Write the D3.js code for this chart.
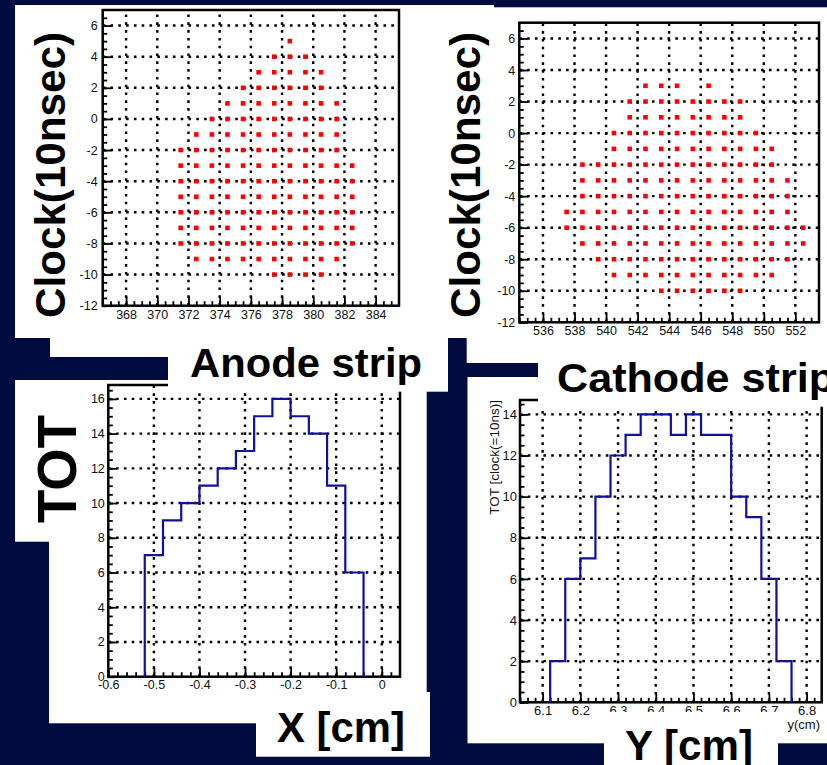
<!DOCTYPE html>
<html>
<head>
<meta charset="utf-8">
<script src="https://cdn.jsdelivr.net/npm/d3@7"></script>
<style>
  body { margin: 0; background: #000c40; }
  svg { display: block; }
</style>
</head>
<body>
<script>
// ---- data ----
// anode strip vs clock (red markers), one row per clock value
var anodeClock = [5, 4, 3, 2, 1, 0, -1, -2, -3, -4, -5, -6, -7, -8, -9, -10];
var anodeStrips = [
  [378.5],
  [377.5, 378.5, 379.5],
  [376.5, 377.5, 378.5, 379.5, 380.5],
  [375.5, 376.5, 377.5, 378.5, 379.5, 380.5],
  [374.5, 375.5, 376.5, 377.5, 378.5, 379.5, 380.5, 381.5],
  [373.5, 374.5, 375.5, 376.5, 377.5, 378.5, 379.5, 380.5, 381.5],
  [372.5, 373.5, 374.5, 375.5, 376.5, 377.5, 378.5, 379.5, 380.5, 381.5],
  [371.5, 372.5, 373.5, 374.5, 375.5, 376.5, 377.5, 378.5, 379.5, 380.5, 381.5],
  [371.5, 372.5, 373.5, 374.5, 375.5, 376.5, 377.5, 378.5, 379.5, 380.5, 381.5, 382.5],
  [371.5, 372.5, 373.5, 374.5, 375.5, 376.5, 377.5, 378.5, 379.5, 380.5, 381.5, 382.5],
  [371.5, 372.5, 373.5, 374.5, 375.5, 376.5, 377.5, 378.5, 379.5, 380.5, 381.5, 382.5],
  [371.5, 372.5, 373.5, 374.5, 375.5, 376.5, 377.5, 378.5, 379.5, 380.5, 381.5, 382.5],
  [371.5, 372.5, 373.5, 374.5, 375.5, 376.5, 377.5, 378.5, 379.5, 380.5, 381.5, 382.5],
  [371.5, 372.5, 373.5, 374.5, 375.5, 376.5, 377.5, 378.5, 379.5, 380.5, 381.5, 382.5],
  [372.5, 373.5, 374.5, 375.5, 376.5, 377.5, 378.5, 379.5, 380.5, 381.5],
  [377.5, 378.5, 379.5, 380.5]
];

// cathode strip vs clock
var cathodeClock = [3, 2, 1, 0, -1, -2, -3, -4, -5, -6, -7, -8, -9, -10];
var cathodeStrips = [
  [542.5, 543.5, 544.5, 546.5],
  [541.5, 542.5, 543.5, 544.5, 545.5, 546.5, 547.5, 548.5],
  [541.5, 542.5, 543.5, 544.5, 545.5, 546.5, 547.5, 548.5],
  [540.5, 541.5, 542.5, 543.5, 544.5, 545.5, 546.5, 547.5, 548.5, 549.5],
  [540.5, 541.5, 542.5, 543.5, 544.5, 545.5, 546.5, 547.5, 548.5, 549.5, 550.5],
  [538.5, 539.5, 540.5, 541.5, 542.5, 543.5, 544.5, 545.5, 546.5, 547.5, 548.5, 549.5, 550.5],
  [538.5, 539.5, 540.5, 541.5, 542.5, 543.5, 544.5, 545.5, 546.5, 547.5, 548.5, 549.5, 550.5, 551.5],
  [538.5, 539.5, 540.5, 541.5, 542.5, 543.5, 544.5, 545.5, 546.5, 547.5, 548.5, 549.5, 550.5, 551.5],
  [537.5, 538.5, 539.5, 540.5, 541.5, 542.5, 543.5, 544.5, 545.5, 546.5, 547.5, 548.5, 549.5, 550.5, 551.5],
  [537.5, 538.5, 539.5, 540.5, 541.5, 542.5, 543.5, 544.5, 545.5, 546.5, 547.5, 548.5, 549.5, 550.5, 551.5, 552.5],
  [538.5, 539.5, 540.5, 541.5, 542.5, 543.5, 544.5, 545.5, 546.5, 547.5, 548.5, 549.5, 550.5, 551.5, 552.5],
  [539.5, 540.5, 541.5, 542.5, 543.5, 544.5, 545.5, 546.5, 547.5, 548.5, 549.5, 550.5, 551.5],
  [540.5, 541.5, 542.5, 543.5, 544.5, 545.5, 546.5, 547.5, 548.5, 549.5, 550.5],
  [543.5, 544.5, 545.5, 546.5, 547.5, 548.5]
];

// TOT histograms (bin low edge, content), bin width 0.04 cm
var binWidth = 0.04;
var anodeX = [-0.52, -0.48, -0.44, -0.40, -0.36, -0.32, -0.28, -0.24, -0.20, -0.16, -0.12, -0.08];
var anodeTOT = [7, 9, 10, 11, 12, 13, 15, 16, 15, 14, 11, 6];
var cathodeY = [6.12, 6.16, 6.20, 6.24, 6.28, 6.32, 6.36, 6.40, 6.44, 6.48, 6.52, 6.56, 6.60, 6.64, 6.68, 6.72];
var cathodeTOT = [2, 6, 7, 10, 12, 13, 14, 14, 13, 14, 13, 13, 10, 9, 6, 2];

// tick labels
var clockTicks = [-12, -10, -8, -6, -4, -2, 0, 2, 4, 6];
var anodeStripTicks = [368, 370, 372, 374, 376, 378, 380, 382, 384];
var cathodeStripTicks = [536, 538, 540, 542, 544, 546, 548, 550, 552];
var anodeTotTicks = [0, 2, 4, 6, 8, 10, 12, 14, 16];
var anodeXTicks = [-0.6, -0.5, -0.4, -0.3, -0.2, -0.1, 0];
var cathodeTotTicks = [0, 2, 4, 6, 8, 10, 12, 14];
var cathodeYTicks = [6.1, 6.2, 6.3, 6.4, 6.5, 6.6, 6.7, 6.8];

// ---- layout ----
var bg = "#000c40";
var labelFont = "'Liberation Sans', Arial, Helvetica, sans-serif";

var svg = d3.select("body").append("svg")
    .attr("width", 827)
    .attr("height", 765);

svg.append("rect")
    .attr("width", 827)
    .attr("height", 765)
    .attr("fill", bg);

function whiteRect(x0, y0, x1, y1) {
    svg.append("rect")
        .attr("x", x0).attr("y", y0)
        .attr("width", x1 - x0).attr("height", y1 - y0)
        .attr("fill", "#fff");
}

// white slide panels (underneath)
whiteRect(466.7, 7.3, 827, 363);    // top right screenshot
// leftover of the small ROOT y title, mostly hidden
var clip = svg.append("clipPath").attr("id", "sliver");
clip.append("rect").attr("x", 494).attr("y", 0).attr("width", 10).attr("height", 80);
svg.append("text")
    .attr("clip-path", "url(#sliver)")
    .attr("transform", "translate(500,22.7) rotate(-90)")
    .attr("text-anchor", "end")
    .attr("font-family", labelFont)
    .attr("font-size", 13)
    .attr("fill", "#333")
    .text("Clock(10nsec)");
whiteRect(15, 5, 494, 338);         // top left screenshot
whiteRect(50, 338, 448, 357);
whiteRect(15, 380, 62, 541.7);      // TOT label
whiteRect(49, 380, 426.7, 723.3);   // anode histogram
whiteRect(256, 692, 430, 756.7);    // X [cm]
whiteRect(467.5, 377, 827, 743.3);  // cathode histogram

// ---- generic ROOT-like frame ----
function makeFrame(p) {
    var x = d3.scaleLinear().domain(p.xDomain).range([p.left, p.right]);
    var y = d3.scaleLinear().domain(p.yDomain).range([p.bottom, p.top]);
    var g = svg.append("g");

    // dotted grid
    g.selectAll(".vgrid")
        .data(p.xTicks.filter(d => x(d) > p.left + 1 && x(d) < p.right - 1))
        .enter().append("line")
        .attr("x1", d => x(d)).attr("x2", d => x(d))
        .attr("y1", p.bottom).attr("y2", p.top)
        .attr("stroke", "#000")
        .attr("stroke-width", 2.4)
        .attr("stroke-dasharray", "2.6,5.2");
    g.selectAll(".hgrid")
        .data(p.yTicks.filter(d => y(d) < p.bottom - 1 && y(d) > p.top + 1))
        .enter().append("line")
        .attr("x1", p.left).attr("x2", p.right)
        .attr("y1", d => y(d)).attr("y2", d => y(d))
        .attr("stroke", "#000")
        .attr("stroke-width", 2.4)
        .attr("stroke-dasharray", "2.6,5.2");

    // minor ticks
    var xMinor = d3.range(Math.ceil(p.xDomain[0] / p.xMinor) * p.xMinor, p.xDomain[1], p.xMinor);
    var yMinor = d3.range(Math.ceil(p.yDomain[0] / p.yMinor) * p.yMinor, p.yDomain[1], p.yMinor);
    g.append("g")
        .attr("transform", "translate(0," + p.bottom + ")")
        .call(d3.axisBottom(x).tickValues(xMinor).tickSize(-4.5).tickFormat(""))
        .call(a => a.select(".domain").remove());
    g.append("g")
        .attr("transform", "translate(" + p.left + ",0)")
        .call(d3.axisLeft(y).tickValues(yMinor).tickSize(-4.5).tickFormat(""))
        .call(a => a.select(".domain").remove());

    // major ticks + labels
    g.append("g")
        .attr("transform", "translate(0," + p.bottom + ")")
        .call(d3.axisBottom(x).tickValues(p.xTicks).tickSize(-p.tickLen)
            .tickPadding(p.xPad).tickFormat(d => String(d)))
        .call(a => a.select(".domain").remove());
    g.append("g")
        .attr("transform", "translate(" + p.left + ",0)")
        .call(d3.axisLeft(y).tickValues(p.yTicks).tickSize(-p.tickLen)
            .tickPadding(p.yPad).tickFormat(d => String(d)))
        .call(a => a.select(".domain").remove());

    g.selectAll(".tick line")
        .attr("stroke", "#000")
        .attr("stroke-width", 1.8);
    g.selectAll(".tick text")
        .attr("font-family", labelFont)
        .attr("font-size", p.fontSize)
        .attr("fill", "#111");

    // frame
    g.append("rect")
        .attr("x", p.left).attr("y", p.top)
        .attr("width", p.right - p.left).attr("height", p.bottom - p.top)
        .attr("fill", "none")
        .attr("stroke", "#000")
        .attr("stroke-width", 2.5);

    return {x: x, y: y, g: g};
}

// ---- anode strip scatter ----
var anode = makeFrame({
    left: 102.7, right: 399, top: 10, bottom: 305.7,
    xDomain: [366.5, 385.5], yDomain: [-12, 7],
    xTicks: anodeStripTicks, yTicks: clockTicks,
    xMinor: 0.5, yMinor: 0.5, tickLen: 9,
    xPad: 4, yPad: 5, fontSize: 12.5
});

anodeClock.forEach(function(c, i) {
    anode.g.selectAll(".pt" + i)
        .data(anodeStrips[i])
        .enter().append("rect")
        .attr("x", d => anode.x(d) - 2.3)
        .attr("y", anode.y(c) - 2.3)
        .attr("width", 4.6)
        .attr("height", 4.6)
        .attr("fill", "#ff0000");
});

// ---- cathode strip scatter ----
var cathode = makeFrame({
    left: 519.3, right: 819, top: 22.7, bottom: 322.3,
    xDomain: [534.5, 553.5], yDomain: [-12, 7],
    xTicks: cathodeStripTicks, yTicks: clockTicks,
    xMinor: 0.5, yMinor: 0.5, tickLen: 9,
    xPad: 4, yPad: 4, fontSize: 12.5
});

cathodeClock.forEach(function(c, i) {
    cathode.g.selectAll(".pt" + i)
        .data(cathodeStrips[i])
        .enter().append("rect")
        .attr("x", d => cathode.x(d) - 2.3)
        .attr("y", cathode.y(c) - 2.3)
        .attr("width", 4.6)
        .attr("height", 4.6)
        .attr("fill", "#ff0000");
});

// ---- histograms ----
function stepPath(h, lows, vals) {
    var pts = [[h.x(lows[0]), h.y(0)]];
    lows.forEach(function(lo, i) {
        pts.push([h.x(lo), h.y(vals[i])]);
        pts.push([h.x(lo + binWidth), h.y(vals[i])]);
    });
    pts.push([h.x(lows[lows.length - 1] + binWidth), h.y(0)]);
    h.g.append("path")
        .attr("d", d3.line()(pts))
        .attr("fill", "none")
        .attr("stroke", "#10109c")
        .attr("stroke-width", 2.2);
}

var anodeHist = makeFrame({
    left: 108.3, right: 400, top: 385, bottom: 676.7,
    xDomain: [-0.6, 0.04], yDomain: [0, 16.8],
    xTicks: anodeXTicks, yTicks: anodeTotTicks,
    xMinor: 0.02, yMinor: 0.5, tickLen: 8.5,
    xPad: 3, yPad: 3.5, fontSize: 12.5
});
stepPath(anodeHist, anodeX, anodeTOT);

var cathodeHist = makeFrame({
    left: 520, right: 821.7, top: 400, bottom: 702.3,
    xDomain: [6.04, 6.84], yDomain: [0, 14.7],
    xTicks: cathodeYTicks, yTicks: cathodeTotTicks,
    xMinor: 0.02, yMinor: 0.5, tickLen: 8.5,
    xPad: 3, yPad: 3, fontSize: 13
});
stepPath(cathodeHist, cathodeY, cathodeTOT);

svg.append("text")
    .attr("transform", "translate(499,400) rotate(-90)")
    .attr("text-anchor", "end")
    .attr("font-family", labelFont)
    .attr("font-size", 13.5)
    .attr("fill", "#111")
    .text("TOT [clock(=10ns)]");
svg.append("text")
    .attr("x", 820).attr("y", 729)
    .attr("text-anchor", "end")
    .attr("font-family", labelFont)
    .attr("font-size", 13)
    .attr("fill", "#111")
    .text("y(cm)");

// ---- overlay panels with big slide labels ----
whiteRect(168, 338, 448, 391.7);    // Anode strip
whiteRect(538, 363, 827, 406.7);    // Cathode strip
whiteRect(604, 712, 778, 765);      // Y [cm]

function bigLabel(txt, x, y, size, rotate, len) {
    svg.append("text")
        .attr("transform", "translate(" + x + "," + y + ")" + (rotate ? " rotate(-90)" : ""))
        .attr("x", rotate ? -len / 2 : 0)
        .attr("font-family", labelFont)
        .attr("font-weight", "bold")
        .attr("font-size", size)
        .attr("textLength", len)
        .attr("lengthAdjust", "spacingAndGlyphs")
        .attr("fill", "#000")
        .text(txt);
}

bigLabel("Clock(10nsec)", 64.5, 175, 42, true, 286);
bigLabel("Clock(10nsec)", 480, 175, 42, true, 286);
bigLabel("Anode strip", 190, 377, 40, false, 232);
bigLabel("Cathode strip", 557, 391.5, 40, false, 278);
bigLabel("TOT", 76, 469, 56, true, 108);
bigLabel("X [cm]", 277, 741.7, 42, false, 128);
bigLabel("Y [cm]", 625, 760, 42, false, 128);
</script>
</body>
</html>
